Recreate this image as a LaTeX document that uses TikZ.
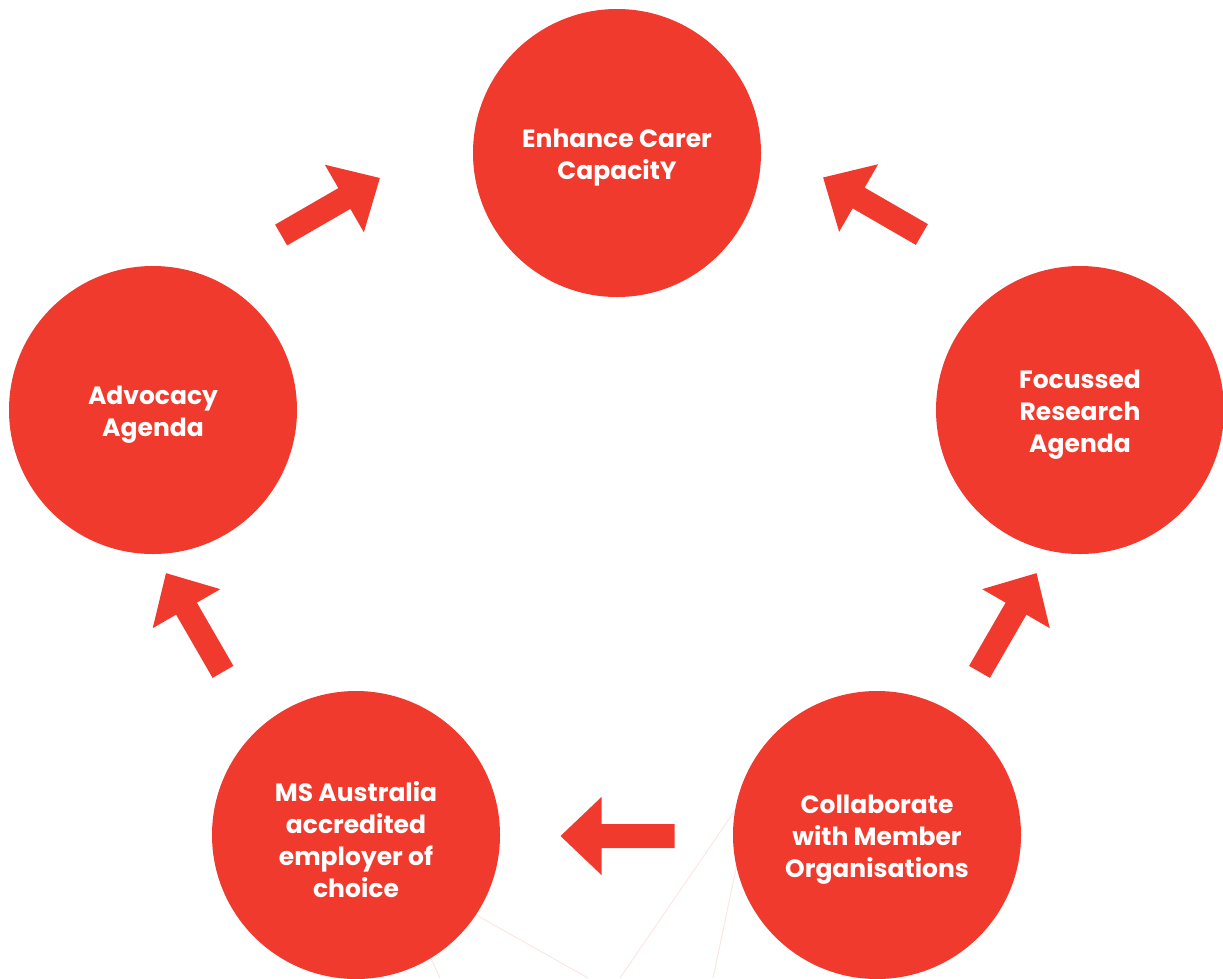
\documentclass[tikz,border=0pt]{standalone}
\usepackage{fontspec}
\setmainfont{Poppins}
\usepackage{tikz}

\definecolor{msred}{HTML}{EF3A2D}
\definecolor{faintline}{HTML}{FCE6E4}

\tikzset{
  stage/.style={circle, fill=msred, minimum size=288pt, inner sep=0pt},
  stagetext/.style={text=white, align=center, yshift=-5pt,
    font=\bfseries\fontsize{25}{32}\selectfont},
  pics/blockarrow/.style={code={
    \fill[msred] (-57,-12) -- (16,-12) -- (16,-39) -- (57,0)
      -- (16,39) -- (16,12) -- (-57,12) -- cycle;}}
}

\begin{document}
\begin{tikzpicture}
  [x=1pt, y=-1pt]
  \useasboundingbox (0,0) rectangle (1223,978);
  % faint lines behind the circles
  \draw[faintline, line width=1pt] (400,872) -- (588,978);
  \draw[faintline, line width=1pt] (425,945) -- (440,978);
  \draw[faintline, line width=1pt] (760,774) -- (620,978);
  \draw[faintline, line width=1pt] (745,826) -- (713,978);
  % stages
  \node[stage, label={[stagetext]center:{Enhance Carer\\CapacitY}}] (enh) at (617,153) {};
  \node[stage, label={[stagetext]center:{Advocacy\\Agenda}}] (adv) at (153,410) {};
  \node[stage, label={[stagetext]center:{Focussed\\Research\\Agenda}}] (res) at (1080,410) {};
  \node[stage, label={[stagetext]center:{MS Australia\\accredited\\employer of\\choice}}] (emp) at (356,835) {};
  \node[stage, label={[stagetext]center:{Collaborate\\with Member\\Organisations}}] (col) at (877,835) {};
  % arrows
  \pic[rotate=30] at (330.5,206.5) {blockarrow};
  \pic[rotate=150] at (872.5,206) {blockarrow};
  \pic[rotate=120] at (194.5,622.5) {blockarrow};
  \pic[rotate=60] at (1008,622.5) {blockarrow};
  \pic[rotate=180] at (617.5,836) {blockarrow};
\end{tikzpicture}
\end{document}
